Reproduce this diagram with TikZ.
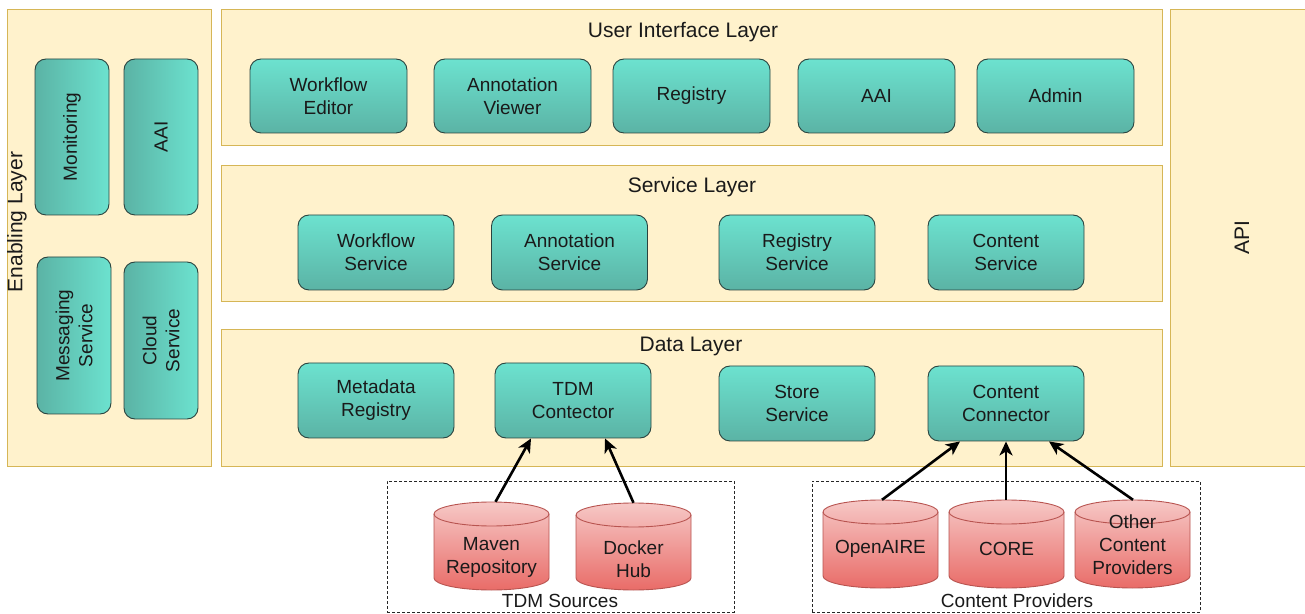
\documentclass[tikz,border=0pt]{standalone}
\usepackage{fontspec}
\setmainfont{Liberation Sans}
\usetikzlibrary{arrows.meta}
\definecolor{layerfill}{HTML}{FFF2CC}
\definecolor{layerline}{HTML}{D6B656}
\definecolor{teallight}{HTML}{6CE2CF}
\definecolor{tealdark}{HTML}{5BB3A5}
\definecolor{tealline}{HTML}{2A433F}
\definecolor{pinklight}{HTML}{F6C8C6}
\definecolor{pinkdark}{HTML}{E96C68}
\definecolor{pinkline}{HTML}{B85450}
\definecolor{txt}{HTML}{1A1A1A}
\tikzset{
  layer/.style={draw=layerline, fill=layerfill, line width=1pt, inner sep=0pt},
  tealbox/.style={draw=tealline, line width=0.9pt, rounded corners=11pt, top color=teallight, bottom color=tealdark,
    minimum width=157pt, minimum height=75pt, align=center, inner sep=0pt, text=txt,
    font=\fontsize{19}{23}\selectfont},
  vbox/.style={draw=tealline, line width=0.9pt, rounded corners=11pt, left color=tealdark, right color=teallight,
    minimum width=74pt, minimum height=156pt, inner sep=0pt},
  vtext/.style={rotate=90, align=center, text=txt, font=\fontsize{19}{23}\selectfont},
  title/.style={text=txt, font=\fontsize{21}{24}\selectfont},
  cylsh/.style={top color=pinklight, bottom color=pinkdark},
  cylline/.style={draw=pinkline, line width=0.9pt},
  ctext/.style={align=center, text=txt, font=\fontsize{19}{23}\selectfont},
  grp/.style={draw=black!85, line width=0.8pt, dash pattern=on 3pt off 2pt, inner sep=0pt},
  arr/.style={line width=2.6pt, -{Stealth[length=14pt,width=13pt,inset=4pt]}}
}
% name, cx, ytop, ybot, text, text y
\newcommand\mycyl[6]{%
  \node[minimum width=115pt, minimum height={#3-#4}, inner sep=0pt] (#1) at (#2,{(#3+#4)/2}) {};
  \shade[cylsh] (#2-57.5,#3-12) -- (#2-57.5,#4+12) arc(180:360:57.5 and 12) -- (#2+57.5,#3-12) arc(0:180:57.5 and 12) -- cycle;
  \draw[cylline] (#2-57.5,#3-12) -- (#2-57.5,#4+12) arc(180:360:57.5 and 12) -- (#2+57.5,#3-12) arc(0:180:57.5 and 12) -- cycle;
  \draw[cylline] (#2-57.5,#3-12) arc(180:360:57.5 and 12);
  \node[ctext] (#1t) at (#2,#6) {#5};
}
\begin{document}
\begin{tikzpicture}[x=1pt,y=1pt]
\useasboundingbox (0,0) rectangle (1305,613);
\fill[white] (0,0) rectangle (1305,613);

% layers
\node[layer, minimum width=204pt, minimum height=457pt] (enab) at (109,374.5) {};
\node[title, rotate=90] (enabt) at (17,391) {Enabling Layer};
\node[layer, minimum width=941pt, minimum height=136pt] (ui) at (691.5,535) {};
\node[title] (uit) at (683,581) {User Interface Layer};
\node[layer, minimum width=941pt, minimum height=136pt] (svc) at (691.5,379) {};
\node[title] (svct) at (692,426) {Service Layer};
\node[layer, minimum width=941pt, minimum height=137pt] (data) at (691.5,214.5) {};
\node[title] (datat) at (691,267) {Data Layer};
\node[layer, minimum width=150pt, minimum height=457pt] (api) at (1245,374.5) {};
\node[title, rotate=90] (apit) at (1242,375) {API};

% enabling boxes
\node[vbox] (mon) at (72,476) {};
\node[vtext] at (mon) {Monitoring};
\node[vbox] (aai1) at (161,476) {};
\node[vtext] at (aai1) {AAI};
\node[vbox, minimum height=157pt] (msg) at (74,277.5) {};
\node[vtext] at (msg) {Messaging\\Service};
\node[vbox, minimum height=157pt] (cloud) at (161,272.5) {};
\node[vtext] at (cloud) {Cloud\\Service};

% UI boxes
\node[tealbox, minimum height=74pt] (we) at (328.5,517) {Workflow\\Editor};
\node[tealbox, minimum height=74pt] (av) at (512.5,517) {Annotation\\Viewer};
\node[tealbox, minimum height=74pt] (reg) at (691.5,517) {Registry};
\node[tealbox, minimum height=74pt] (aai2) at (876.5,517) {AAI};
\node[tealbox, minimum height=74pt] (adm) at (1055.5,517) {Admin};

% service boxes
\node[tealbox, minimum width=156pt] (ws) at (376,360.5) {Workflow\\Service};
\node[tealbox, minimum width=156pt] (as) at (569.5,360.5) {Annotation\\Service};
\node[tealbox, minimum width=156pt] (rs) at (797,360.5) {Registry\\Service};
\node[tealbox, minimum width=156pt] (cs) at (1006,360.5) {Content\\Service};

% data boxes
\node[tealbox, minimum width=156pt] (mr) at (376,212.5) {Metadata\\Registry};
\node[tealbox, minimum width=156pt] (tdm) at (573,212.5) {TDM\\Contector};
\node[tealbox, minimum width=156pt] (ss) at (797,209.5) {Store\\Service};
\node[tealbox, minimum width=156pt] (cc) at (1006,209.5) {Content\\Connector};

% groups
\node[grp, minimum width=347pt, minimum height=131pt] (tdmsrc) at (560.5,66.5) {};
\node[grp, minimum width=388pt, minimum height=131pt] (cprov) at (1006,66.5) {};

\mycyl{mvn}{491.5}{111}{23}{Maven\\Repository}{55.5}
\mycyl{dock}{633.5}{110}{23}{Docker\\Hub}{54}
\mycyl{oa}{880.5}{113}{25}{OpenAIRE}{64}
\mycyl{core}{1006.5}{113}{25}{CORE}{64}
\mycyl{oth}{1132.5}{113}{25}{Other\\Content\\Providers}{68}

\node[ctext] (tdmsrct) at (560,12) {TDM Sources};
\node[ctext] (cprovt) at (1017,12) {Content Providers};

% arrows
\draw[arr] ([xshift=4pt]mvn.north) -- ([xshift=-42pt]tdm.south);
\draw[arr] (dock.north) -- ([xshift=32pt]tdm.south);
\draw[arr] ([xshift=1.5pt]oa.north) -- ([xshift=-46pt]cc.south);
\draw[arr] ([xshift=-0.5pt]core.north) -- (cc.south);
\draw[arr] ([xshift=0.5pt]oth.north) -- ([xshift=43pt]cc.south);
\end{tikzpicture}
\end{document}
